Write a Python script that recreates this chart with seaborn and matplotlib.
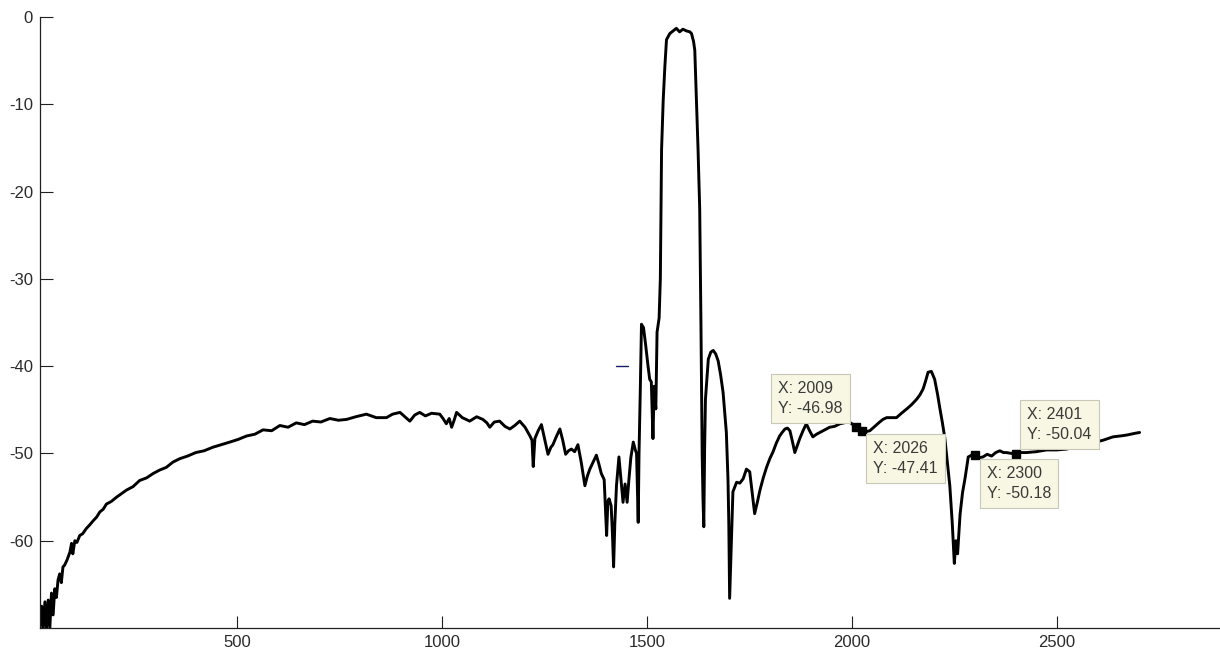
import numpy as np
import pandas as pd
import matplotlib
matplotlib.use("Agg")
import matplotlib.pyplot as plt
import seaborn as sns

# spectrum trace (x sample index, y in dB)
trace_x = [20, 24, 28, 32, 36, 40, 44, 48, 52, 56, 60, 64, 68, 72, 76, 80, 86, 93, 97, 100,
           105, 110, 117, 124, 133, 141, 150, 158, 166, 174, 182, 194, 207, 219, 231, 247,
           263, 280, 296, 312, 328, 344, 361, 380, 400, 420, 441, 462, 483, 503, 524, 544,
           564, 585, 605, 625, 645, 665, 685, 705, 727, 748, 768, 790, 816, 840, 865, 880,
           898, 910, 922, 934, 946, 960, 975, 995, 1003, 1011, 1018, 1024, 1030, 1036, 1050,
           1068, 1085, 1100, 1110, 1117, 1128, 1141, 1154, 1166, 1178, 1190, 1203, 1215,
           1220, 1223, 1227, 1235, 1243, 1251, 1259, 1266, 1271, 1280, 1288, 1295, 1302,
           1309, 1316, 1324, 1332, 1340, 1349, 1355, 1361, 1369, 1377, 1383, 1389, 1396,
           1402, 1405, 1408, 1413, 1416, 1419, 1422, 1426, 1432, 1437, 1442, 1447, 1452,
           1456, 1461, 1467, 1472, 1475, 1479, 1481, 1484, 1487, 1492, 1497, 1503, 1507,
           1511, 1515, 1518, 1522, 1525, 1530, 1533, 1536, 1540, 1544, 1548, 1556, 1564,
           1572, 1580, 1588, 1597, 1605, 1609, 1614, 1617, 1621, 1625, 1629, 1632, 1635,
           1637, 1639, 1641, 1643, 1650, 1656, 1662, 1668, 1674, 1680, 1686, 1694, 1698,
           1700, 1702, 1706, 1710, 1715, 1719, 1727, 1735, 1743, 1751, 1757, 1763, 1770,
           1776, 1784, 1792, 1800, 1808, 1816, 1824, 1830, 1837, 1843, 1849, 1855, 1861,
           1867, 1873, 1881, 1889, 1897, 1905, 1914, 1922, 1934, 1946, 1958, 1971, 1981,
           1991, 2000, 2009, 2018, 2026, 2035, 2044, 2056, 2068, 2076, 2085, 2097, 2109,
           2121, 2134, 2146, 2158, 2166, 2174, 2180, 2186, 2194, 2202, 2209, 2215, 2221,
           2227, 2233, 2239, 2245, 2250, 2254, 2258, 2264, 2270, 2276, 2284, 2292, 2300,
           2310, 2320, 2330, 2341, 2351, 2361, 2370, 2377, 2389, 2401, 2413, 2426, 2450,
           2475, 2500, 2524, 2550, 2575, 2612, 2637, 2655, 2670, 2690, 2702]
trace_y = [-70, -67.5, -70, -67, -70, -66.8, -70, -66, -68.5, -65.5, -66.5, -64.5, -63.8,
           -64.8, -63, -62.8, -62.2, -61.3, -60.3, -61.5, -60, -60.2, -59.4, -59.2, -58.6,
           -58.2, -57.7, -57.3, -56.7, -56.4, -55.8, -55.5, -55, -54.6, -54.2, -53.8, -53.1,
           -52.8, -52.3, -51.9, -51.6, -51, -50.6, -50.3, -49.9, -49.7, -49.3, -49.0, -48.7,
           -48.4, -48, -47.8, -47.3, -47.4, -46.8, -47.0, -46.5, -46.7, -46.3, -46.4, -46,
           -46.2, -46.1, -45.8, -45.5, -45.9, -45.9, -45.5, -45.3, -45.8, -46.3, -45.6,
           -45.3, -45.7, -45.4, -45.5, -46.0, -46.6, -46.0, -47, -46.2, -45.3, -45.9, -46.3,
           -45.8, -46.1, -46.5, -47, -46.4, -46.3, -46.9, -47.2, -46.8, -46.3, -47.0, -48,
           -48.5, -51.5, -48.3, -47.4, -46.7, -48.4, -50.1, -49.3, -49, -48.0, -47.2, -48.5,
           -50.1, -49.7, -49.5, -49.8, -49, -51, -53.7, -52.6, -51.8, -51.0, -50.2, -51.2,
           -52.3, -53, -59.4, -55.5, -55.2, -56, -59, -63, -58, -53.7, -50.4, -53, -55.6,
           -53.5, -55.6, -53.2, -50.5, -48.7, -49.6, -50, -57.9, -50, -43, -35.2, -35.6,
           -37.5, -40, -41.5, -41.8, -48.3, -42.3, -44.9, -36.1, -34.5, -30, -15.2, -9.5,
           -5.7, -2.6, -1.9, -1.6, -1.3, -1.7, -1.4, -1.6, -1.7, -1.9, -2.8, -3.8, -9.5,
           -15.2, -22, -35, -50, -55.2, -58.4, -49.5, -43.8, -39.2, -38.4, -38.2, -38.6,
           -39.4, -41, -43, -47.6, -53, -58, -66.6, -60.5, -54.4, -53.8, -53.3, -53.4, -52.9,
           -51.8, -52.1, -54.5, -56.9, -55.5, -54.2, -52.8, -51.6, -50.6, -49.8, -48.8, -48,
           -47.6, -47.2, -47.1, -47.4, -48.6, -49.9, -49.1, -48.3, -47.4, -46.6, -47.4,
           -48.1, -47.8, -47.6, -47.3, -47, -46.9, -46.6, -46.5, -46.3, -46.6, -46.98, -47.3,
           -47.41, -47.5, -47.4, -46.9, -46.4, -46.1, -45.9, -45.9, -45.9, -45.4, -44.9,
           -44.4, -43.8, -43.3, -42.6, -41.7, -40.7, -40.6, -41.5, -43.2, -44.9, -46.5,
           -48.3, -51, -53.7, -58, -62.6, -60, -61.5, -57, -54.5, -52.9, -50.4, -50.2,
           -50.18, -50.5, -50.4, -50.1, -50.3, -49.9, -49.7, -49.9, -49.9, -50.0, -50.04,
           -49.9, -49.9, -49.8, -49.6, -49.6, -49.5, -49.2, -48.9, -48.5, -48.1, -48.0,
           -47.9, -47.7, -47.6]

# data tips
tip_x = [2009, 2026, 2300, 2401]
tip_y = [-46.98, -47.41, -50.18, -50.04]

# small stray dash near -40
dash_x = [1425, 1455]
dash_y = [-40, -40]

x_ticks = [500, 1000, 1500, 2000, 2500]
y_ticks = [0, -10, -20, -30, -40, -50, -60]

sns.set_style("ticks")
plt.rcParams["font.family"] = ["Liberation Sans", "DejaVu Sans"]
plt.rcParams["axes.unicode_minus"] = False

df = pd.DataFrame({"x": trace_x, "y": trace_y})

fig = plt.figure(figsize=(12.2, 6.53), dpi=100)
ax = fig.add_axes([40 / 1220, 25 / 653, 1180 / 1220, 611 / 653])

sns.lineplot(data=df, x="x", y="y", ax=ax, color="black", linewidth=2.1,
             sort=False, estimator=None)
ax.plot(dash_x, dash_y, color="#1c1c6e", linewidth=1.0)
ax.plot(tip_x, tip_y, linestyle="none", marker="s", markersize=6,
        color="black")

# data tip boxes: (offset in pixels, alignment)
offsets = [((-13, 11), "right", "bottom"),
           ((11, -10), "left", "top"),
           ((12, -11), "left", "top"),
           ((11, 12), "left", "bottom")]
for (tx, ty), (off, ha, va) in zip(zip(tip_x, tip_y), offsets):
    ax.annotate(f"X: {tx}\nY: {ty:.2f}", xy=(tx, ty), xytext=off,
                textcoords="offset pixels", ha=ha, va=va, multialignment="left",
                fontsize=11.5, color="#3a3a3a", linespacing=1.4,
                bbox=dict(boxstyle="square,pad=0.45", facecolor="#f7f7e3",
                          edgecolor="#c8c8b8", linewidth=0.8))

ax.set_xlim(20, 2898)
ax.set_ylim(-70, 0)
ax.set_xticks(x_ticks)
ax.set_yticks(y_ticks)
ax.set_xlabel("")
ax.set_ylabel("")
sns.despine(ax=ax, top=True, right=True)
for s in ["left", "bottom"]:
    ax.spines[s].set_color("#202020")
    ax.spines[s].set_linewidth(0.9)
ax.tick_params(direction="in", length=9, width=0.8, colors="#202020",
               labelsize=12, labelcolor="#2a2a2a", pad=5,
               bottom=True, left=True)

fig.savefig("out.png", dpi=100)
